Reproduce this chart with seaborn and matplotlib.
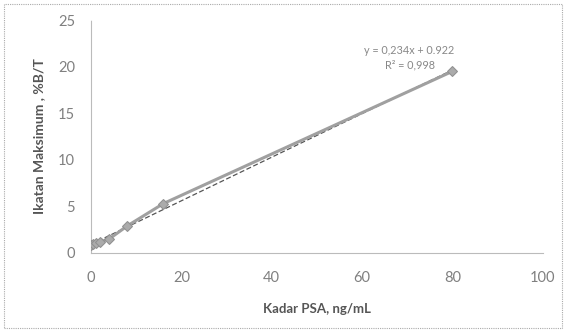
import matplotlib
matplotlib.use("Agg")
import matplotlib.pyplot as plt
import seaborn as sns
import numpy as np
import pandas as pd

# data
kadar_psa = [0, 0.5, 1, 2, 4, 8, 16, 80]
ikatan = [0.9, 1.0, 1.1, 1.2, 1.5, 2.9, 5.3, 19.5]
slope = 0.234
intercept = 0.922
x_ticks = [0, 20, 40, 60, 80, 100]
y_ticks = [0, 5, 10, 15, 20, 25]

df = pd.DataFrame({"x": kadar_psa, "y": ikatan})

sns.set_style("white")
plt.rcParams["font.family"] = ["Lato", "DejaVu Sans"]

fig = plt.figure(figsize=(5.66, 3.35), dpi=100)
ax = fig.add_axes([0.161, 0.245, 0.798, 0.695])

# trend line
tx = np.array([kadar_psa[0], kadar_psa[-1]])
ax.plot(tx, slope * tx + intercept, color="#555555", lw=0.9, ls=(0, (4, 2)), zorder=2)

sns.lineplot(data=df, x="x", y="y", ax=ax, color="#a0a0a0", lw=2.2,
             marker="D", markersize=5.5, markeredgecolor="#909090",
             markerfacecolor="#ababab", zorder=3)

ax.set_xlim(0, 100)
ax.set_ylim(0, 25)
ax.set_xticks(x_ticks)
ax.set_yticks(y_ticks)
ax.tick_params(axis="both", colors="#bbbbbb", labelcolor="#808080",
               labelsize=10.5, length=3, direction="out")
ax.tick_params(axis="x", pad=10)
ax.tick_params(axis="y", pad=8.5)
for s in ["top", "right"]:
    ax.spines[s].set_visible(False)
for s in ["left", "bottom"]:
    ax.spines[s].set_color("#bbbbbb")
    ax.spines[s].set_linewidth(0.8)
    ax.spines[s].set_linestyle((0, (1, 1)))

ax.set_xlabel("Kadar PSA, ng/mL", fontsize=9.5, fontweight="bold",
              color="#555555", labelpad=13)
ax.set_ylabel("Ikatan Maksimum , %B/T", fontsize=10, fontweight="bold",
              color="#555555", labelpad=9)

ax.text(70.5, 21.0, "y = 0,234x + 0.922\nR² = 0,998", ha="center", va="center",
        fontsize=7.8, color="#888888", linespacing=1.4)

# dotted frame around the chart area
fig.patches.append(plt.Rectangle((0.007, 0.02), 0.986, 0.968, transform=fig.transFigure,
                                 fill=False, ec="#aaaaaa", lw=0.8, ls=(0, (1, 1))))

fig.savefig("out.png", dpi=100)
